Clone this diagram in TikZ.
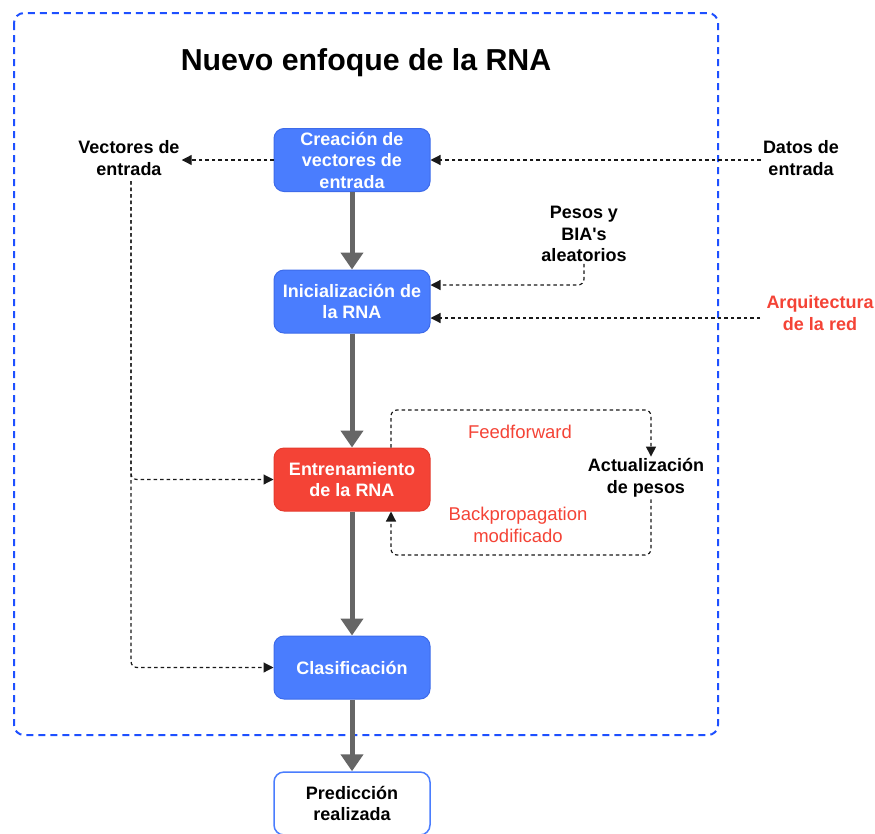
\documentclass[tikz,border=0pt]{standalone}
\usepackage{fontspec}
\setmainfont{Liberation Sans}[Ligatures=TeXOff]
\usetikzlibrary{arrows.meta,calc}

\definecolor{boxblue}{HTML}{4A7DFE}
\definecolor{boxblueedge}{HTML}{3D6BEA}
\definecolor{boxred}{HTML}{F44336}
\definecolor{boxrededge}{HTML}{E53B2E}
\definecolor{framblue}{HTML}{1E50FF}
\definecolor{flowgray}{HTML}{666666}
\definecolor{notered}{HTML}{F44336}

\tikzset{
  stepbox/.style={rounded corners=10pt, minimum width=156pt, minimum height=63pt,
    align=center, inner sep=2pt, line width=1pt,
    font=\bfseries\fontsize{18}{21.5}\selectfont},
  bluebox/.style={stepbox, fill=boxblue, draw=boxblueedge, text=white},
  redbox/.style={stepbox, fill=boxred, draw=boxrededge, text=white},
  outbox/.style={stepbox, fill=white, draw=boxblue, line width=1.5pt, text=black},
  flow/.style={draw=flowgray, line width=5pt, -{Triangle[length=17pt,width=22pt]}},
  link/.style={draw=black!90, line width=1.2pt, dash pattern=on 3.5pt off 3pt,
    rounded corners=6pt, -{Triangle[length=10pt,width=10pt]}},
  note/.style={align=center, inner sep=2pt, font=\bfseries\fontsize{18}{21.5}\selectfont},
  rednote/.style={align=center, inner sep=2pt, text=notered,
    font=\fontsize{18.5}{22}\selectfont},
}

\begin{document}
\begin{tikzpicture}[x=1pt,y=-1pt]
  \useasboundingbox (0,0) rectangle (875,833);
  \clip (0,0) rectangle (875,833);

  % dashed frame of the new approach
  \draw[framblue, line width=2pt, dash pattern=on 7pt off 5pt, rounded corners=10pt]
    (14,13) rectangle (718,735);
  \node[font=\bfseries\fontsize{30.3}{36}\selectfont] (title) at (366,63) {Nuevo enfoque de la RNA};

  % main pipeline
  \node[bluebox] (crea) at (352,160) {Creación de\\vectores de\\entrada};
  \node[bluebox] (init) at (352,301.5) {Inicialización de\\la RNA};
  \node[redbox]  (entr) at (352,479.5) {Entrenamiento\\de la RNA};
  \node[bluebox] (clas) at (352,667.5) {Clasificación};
  \node[outbox]  (pred) at (352,803.5) {Predicción\\realizada};

  \draw[flow] (crea) -- (init);
  \draw[flow] (init) -- (entr);
  \draw[flow] (entr) -- (clas);
  \draw[flow] (clas) -- (pred);

  % side labels
  \node[note] (vect) at (129,158) {Vectores de\\entrada};
  \node[note] (datos) at (801,158) {Datos de\\entrada};
  \node[note] (pesos) at (584,234) {Pesos y\\BIA's\\aleatorios};
  \node[rednote, font=\bfseries\fontsize{18}{21.5}\selectfont] (arq) at (820,313) {Arquitectura\\de la red};
  \node[note] (act) at (646,478) {Actualización\\de pesos};
  \node[rednote] (ff) at (520,432) {Feedforward};
  \node[rednote] (bp) at (518,525) {Backpropagation\\modificado};

  % input connectors
  \coordinate (initA) at ($(init.east)+(0,-16.5)$);
  \coordinate (initB) at ($(init.east)+(0,16.5)$);
  \coordinate (arqIn) at (760,318);
  \draw[link] (crea.west) -- (vect.east |- crea.west);
  \draw[link] (datos.west |- crea.east) -- (crea.east);
  \draw[link] (pesos.south) |- (initA);
  \draw[link] (arqIn) -- (initB);

  \coordinate (vx) at (131,181);
  \draw[link] (vx) |- (entr.west);
  \draw[link] (vx) |- (clas.west);

  % training loop
  \coordinate (fbTL) at (391,410);
  \coordinate (fbTR) at (651,410);
  \coordinate (fbBL) at (391,555);
  \coordinate (fbBR) at (651,555);
  \draw[link] (entr.north -| fbTL) -- (fbTL) -- (fbTR) -- (fbTR |- act.north);
  \draw[link] (fbBR |- act.south) -- (fbBR) -- (fbBL) -- (entr.south -| fbBL);
\end{tikzpicture}
\end{document}
